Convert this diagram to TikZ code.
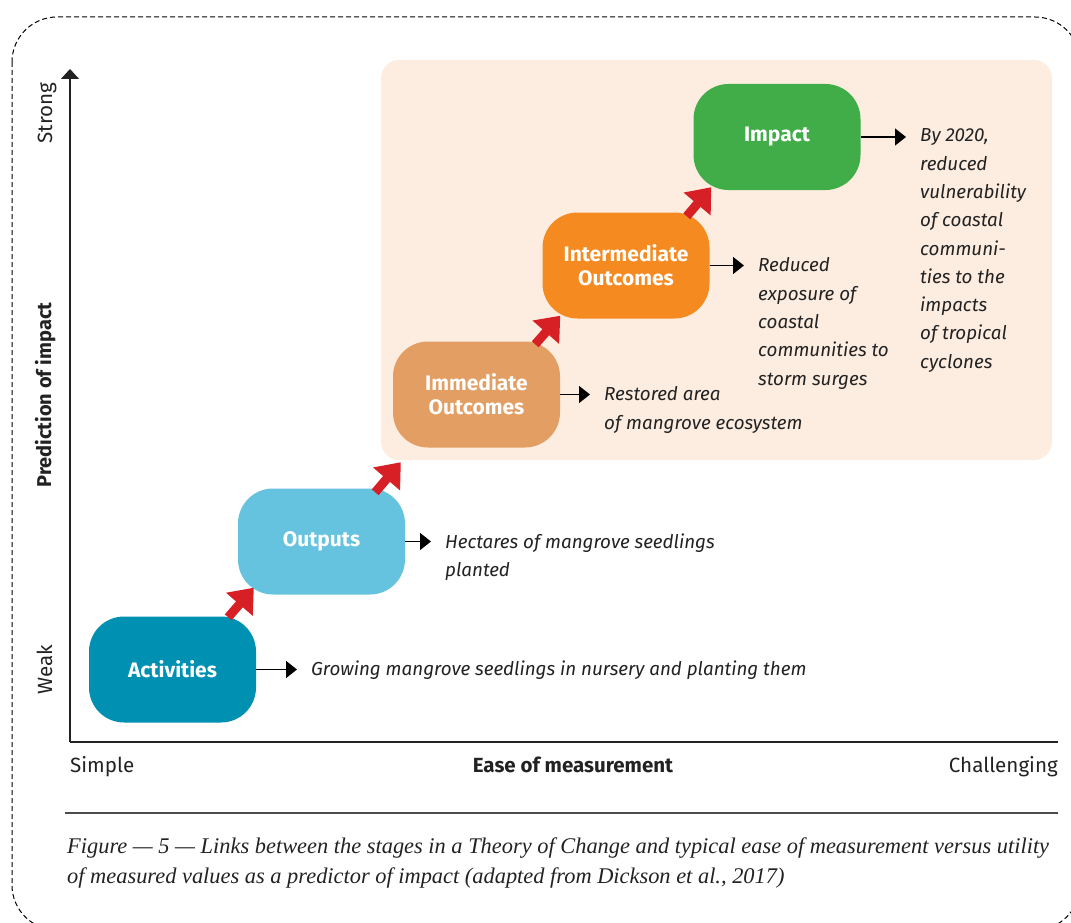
\documentclass[tikz,border=0pt]{standalone}
\usepackage{fontspec}
\setmainfont{Fira Sans}
\newfontfamily\capfont[Ligatures=TeX]{Liberation Serif}
\usetikzlibrary{arrows.meta,positioning}
\definecolor{actblue}{HTML}{0090B2}
\definecolor{outblue}{HTML}{66C3DF}
\definecolor{immorange}{HTML}{E39E63}
\definecolor{intorange}{HTML}{F58A20}
\definecolor{impgreen}{HTML}{41AD49}
\definecolor{peach}{HTML}{FDEDE0}
\definecolor{arrowred}{HTML}{D71F26}
\definecolor{inkgray}{HTML}{222222}
\newcommand{\Lead}[2]{\draw [blkarr] (#1.east) -- (#1.east -| #2.west);}

\begin{document}
\begin{tikzpicture}
[x=1pt, y=-1pt,
 stage/.style={rectangle, rounded corners=35pt, minimum width=167pt,
   minimum height=106pt, inner sep=0pt, align=center, text=white,
   font=\bfseries\fontsize{21}{24}\selectfont},
 outtext/.style={anchor=north west, yshift=14.3pt, inner sep=0pt, align=left,
   text=inkgray, execute at begin node=\strut,
   font=\itshape\fontsize{18.8}{28.3}\selectfont},
 axlabel/.style={inner sep=0pt, text=inkgray, font=\fontsize{20.6}{24}\selectfont},
 redarr/.style={-{Triangle[length=22pt,width=34pt]}, line width=9pt, arrowred},
 blkarr/.style={-{Triangle[length=11pt,width=17pt]}, line width=1.4pt, shorten >=14pt},
 axis/.style={line width=1.5pt, inkgray},]

\useasboundingbox (0,0) rectangle (1071,923);
\begin{scope}
\clip (0,0) rectangle (1071,923);
\draw [line width=1pt, dash pattern=on 5pt off 3pt, rounded corners=45pt]
  (12,17) rectangle (1080,930);
\end{scope}

% shaded block for the outcome stages
\node [fill=peach, rounded corners=18pt, minimum width=671pt,
  minimum height=400pt, inner sep=0pt] at (716.5,260) (bg) {};

% axes
\coordinate (orig) at (70,742);
\coordinate (ytop) at (70,69);
\coordinate (xend) at (1058,742);
\draw [axis, -{Triangle[length=10pt,width=18pt]}] (orig) -- (ytop);
\draw [axis] (orig) -- (xend);

\node [axlabel, rotate=90, anchor=base] at (52,113) (strong) {Strong};
\node [axlabel, rotate=90, anchor=base] at (52,670) (weak) {Weak};
\node [axlabel, rotate=90, anchor=base, font=\bfseries\fontsize{20}{24}\selectfont]
  at (51,395) (pred) {Prediction of impact};
\node [axlabel, anchor=base west] at (70,772) (simple) {Simple};
\node [axlabel, anchor=base, font=\bfseries\fontsize{20.5}{24}\selectfont]
  at (573,772) (ease) {Ease of measurement};
\node [axlabel, anchor=base east] at (1058,772) (hard) {Challenging};

% stages
\node [stage, fill=actblue] at (172.5,669.5) (act) {Activities};
\node [stage, fill=outblue] at (321.5,541.5) (outp) {Outputs};
\node [stage, fill=immorange] at (476.5,394.5) (immo) {Immediate\\Outcomes};
\node [stage, fill=intorange] at (626,265.5) (intmo) {Intermediate\\Outcomes};
\node [stage, fill=impgreen] at (777,137) (imp) {Impact};

% measured values
\node [outtext] at (311,670) (actTxt)
  {Growing mangrove seedlings in nursery and planting them};
\node [outtext] at (445,548) (outTxt) {Hectares of mangrove seedlings\\planted};
\node [outtext] at (604,401) (immTxt) {Restored area\\of mangrove ecosystem};
\node [outtext] at (758,272) (intTxt)
  {Reduced\\exposure of\\coastal\\communities to\\storm surges};
\node [outtext] at (920,143) (impTxt)
  {By 2020,\\reduced\\vulnerability\\of coastal\\communi-\\ties to the\\impacts\\of tropical\\cyclones};

\Lead{act}{actTxt}
\Lead{outp}{outTxt}
\Lead{immo}{immTxt}
\Lead{intmo}{intTxt}
\Lead{imp}{impTxt}

% steps up the chain
\draw [redarr] ([shift={(-28,1)}]act.north east) -- ([shift={(16,-7)}]outp.south west);
\draw [redarr] ([shift={(-30,4)}]outp.north east) -- ([shift={(20,2)}]bg.south west);
\draw [redarr] ([shift={(-25,3)}]immo.north east) -- ([shift={(18,-3)}]intmo.south west);
\draw [redarr] ([shift={(-23,4)}]intmo.north east) -- ([shift={(18,-3)}]imp.south west);

% caption
\coordinate (ruleL) at (65,813);
\coordinate (ruleR) at (1058,813);
\draw [line width=2pt, black!70] (ruleL) -- (ruleR);
\node [anchor=north west, yshift=15pt, inner sep=0pt, align=left, text=inkgray,
  execute at begin node=\strut,
  font=\capfont\itshape\fontsize{22.4}{30}\selectfont] at (67,853) (cap)
  {Figure --- 5 --- Links between the stages in a Theory of Change and typical ease of measurement versus utility\\
   of measured values as a predictor of impact (adapted from Dickson et al., 2017)};
\end{tikzpicture}
\end{document}
